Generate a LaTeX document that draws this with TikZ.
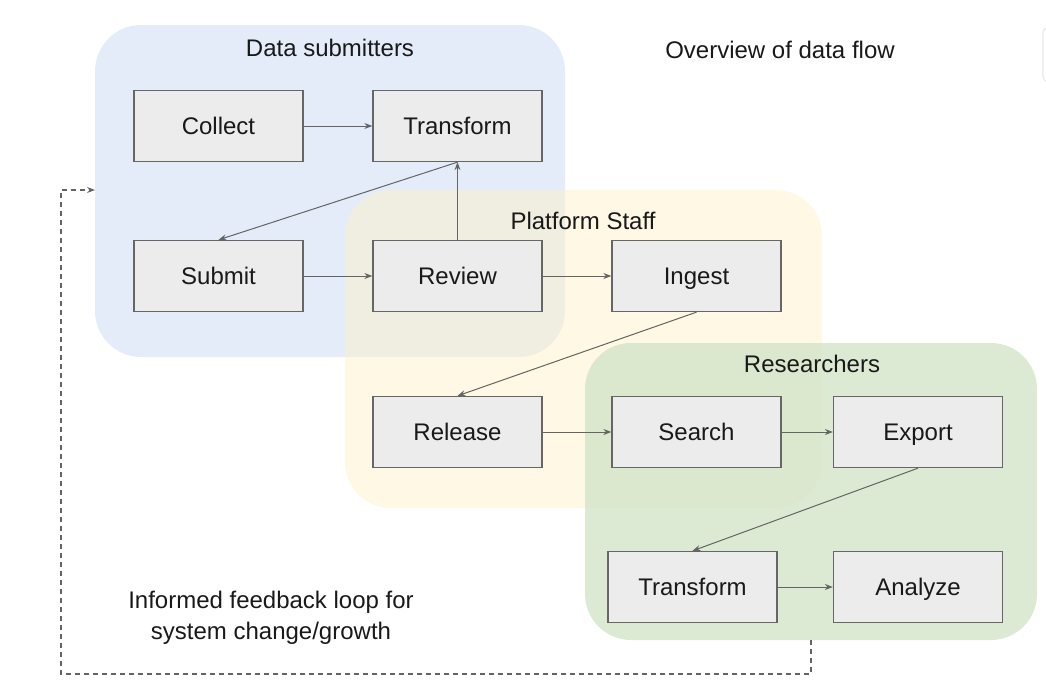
\documentclass[tikz,border=0pt]{standalone}
\usepackage{fontspec}
\setmainfont{Liberation Sans}
\usetikzlibrary{arrows.meta}
\definecolor{bluezone}{RGB}{201,217,243}
\definecolor{yellowzone}{RGB}{253,241,201}
\definecolor{greenzone}{RGB}{211,229,200}
\definecolor{boxfill}{RGB}{236,236,236}
\definecolor{boxline}{RGB}{102,102,102}
\definecolor{linecol}{RGB}{100,100,100}
\definecolor{faint}{RGB}{232,232,232}
\tikzset{
  zone/.style={rounded corners=46pt, draw=none},
  stepbox/.style={draw=boxline, fill=boxfill, line width=1.3pt, minimum width=169pt, minimum height=71pt, inner sep=0pt, font=\fontsize{24}{28}\selectfont, text=black!90, text height=17pt, text depth=0pt},
  title/.style={font=\fontsize{24}{28}\selectfont, text=black!90, inner sep=0pt},
  conn/.style={draw=linecol, line width=1pt, -{Stealth[length=8pt,width=6pt]}},
  loop/.style={draw=linecol, line width=1.1pt, dash pattern=on 5pt off 4pt, -{Stealth[length=8pt,width=6pt]}}
}
\begin{document}
\begin{tikzpicture}[x=1pt,y=-1pt]
\useasboundingbox (0,0) rectangle (1046,694);
% faint artefact top right
\begin{scope}
\clip (0,0) rectangle (1046,694);
\draw[faint, line width=1.2pt, rounded corners=6pt] (1043,27) rectangle (1080,82);
\end{scope}
% zones
\fill[zone, bluezone, opacity=0.5] (95,25) rectangle (565,357);
\fill[zone, yellowzone, opacity=0.5] (345,190) rectangle (822,508);
\fill[zone, greenzone, opacity=0.8] (585,343) rectangle (1037,640);
% titles
\node[title] (tds) at (330,48) {Data submitters};
\node[title] (tov) at (780,50) {Overview of data flow};
\node[title] (tps) at (583,221) {Platform Staff};
\node[title] (tre) at (812,364) {Researchers};
\node[title, align=center, font=\fontsize{24}{31}\selectfont] (tfb) at (271,618) {Informed feedback loop for\\system change/growth};
% boxes
\node[stepbox] (collect) at (218.5,126) {Collect};
\node[stepbox] (transform) at (457.5,126) {Transform};
\node[stepbox] (submit) at (218.5,276) {Submit};
\node[stepbox] (review) at (457.5,276) {Review};
\node[stepbox] (ingest) at (696.5,276) {Ingest};
\node[stepbox] (release) at (457.5,432) {Release};
\node[stepbox] (search) at (696.5,432) {Search};
\node[stepbox] (export) at (918,432) {Export};
\node[stepbox] (transformb) at (692.5,587) {Transform};
\node[stepbox] (analyze) at (918,587) {Analyze};
% connectors
\draw[conn] (collect) -- (transform);
\draw[conn] (transform.south) -- (submit.north);
\draw[conn] (review.north) -- (transform.south);
\draw[conn] (submit) -- (review);
\draw[conn] (review) -- (ingest);
\draw[conn] (ingest.south) -- (release.north);
\draw[conn] (release) -- (search);
\draw[conn] (search) -- (export);
\draw[conn] (export.south) -- (transformb.north);
\draw[conn] (transformb) -- (analyze);
% feedback loop
\coordinate (loopstart) at (811,640);
\coordinate (loopend) at (95,190);
\draw[loop] (loopstart) -- (811,674) -- (61,674) -- (61,190) -- (loopend);
\end{tikzpicture}
\end{document}
